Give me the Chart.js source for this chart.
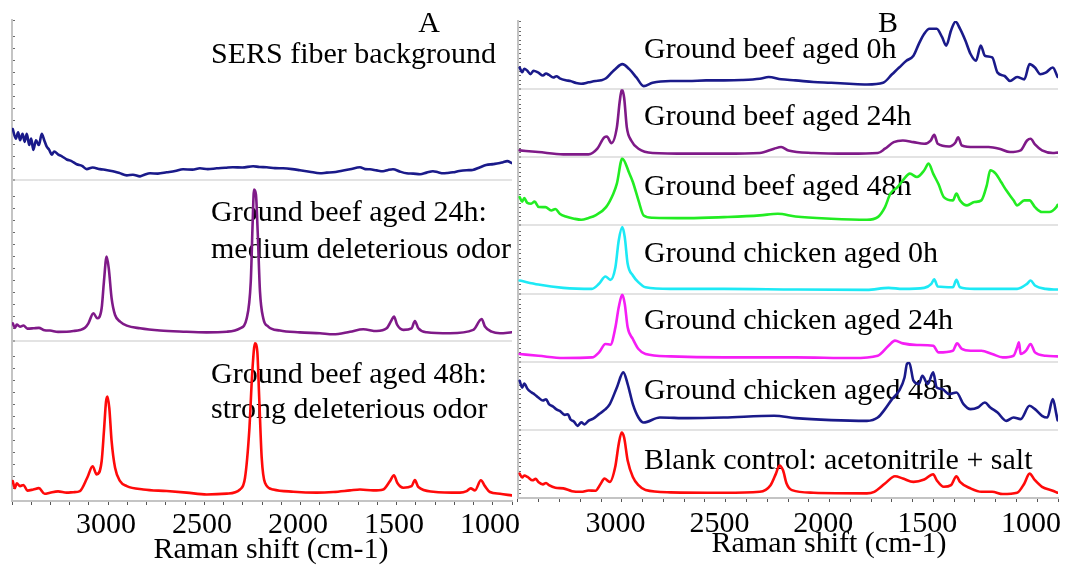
<!DOCTYPE html>
<html>
<head>
<meta charset="utf-8">
<title>SERS spectra of aged ground meat</title>
<script src="https://cdn.jsdelivr.net/npm/chart.js@4.4.1/dist/chart.umd.min.js"></script>
<style>
  html, body { margin: 0; padding: 0; background: #ffffff; }
  body { width: 1065px; height: 569px; position: relative; overflow: hidden; }
  canvas { position: absolute; top: 0; }
  #panelA { left: 0; }
  #panelB { left: 506px; }
</style>
</head>
<body>
<canvas id="panelA" width="520" height="569"></canvas>
<canvas id="panelB" width="559" height="569"></canvas>
<script>
// ---- Raman shift tick labels (cm-1) ----
const shiftTickLabels = [3000, 2500, 2000, 1500, 1000];

// ---- Panel A spectra: [Raman shift, intensity (a.u.)] ----
const fiberBackground = [
  [3486,32],[3470,26],[3458,30],[3448,25],[3435,29],[3424,24],[3413,29],[3400,22],[3390,26],[3379,19],
  [3365,25],[3350,22],[3335,29],[3322,25],[3309,21],[3296,19],[3283,16],[3270,18],[3249,16],[3230,15],
  [3205,13],[3180,12],[3153,10],[3125,9],[3101,7],[3070,8],[3032,7],[3000,6.5],[2964,5.7],[2930,4.5],
  [2892,3.1],[2860,3.5],[2823,2.5],[2800,3.5],[2771,4.4],[2730,4.2],[2684,5.0],[2640,5.8],[2599,6.9],[2550,6.7],
  [2511,7.5],[2470,7.0],[2424,7.5],[2380,7.8],[2339,8.2],[2290,8.0],[2234,8.8],[2200,8.3],[2163,8.2],[2120,7.6],
  [2078,7.5],[2030,7.0],[1990,6.3],[1940,5.4],[1885,4.4],[1850,4.8],[1818,5.0],[1770,6.0],[1729,6.9],[1677,8.2],
  [1650,7.0],[1625,6.9],[1590,6.2],[1557,5.7],[1530,6.5],[1505,6.9],[1470,5.5],[1434,4.4],[1400,4.2],[1364,3.8],
  [1330,4.8],[1297,5.7],[1270,5.0],[1244,4.4],[1220,4.6],[1192,5.0],[1160,5.8],[1121,6.3],[1090,6.5],[1051,8.2],
  [1020,9.5],[984,10.1],[955,10.6],[932,11.3],[910,12.0],[885,10.7]
];
const beefAged24hA = [
  [3486,10.8],[3475,8],[3465,10],[3448,8.7],[3430,9.5],[3410,7.5],[3379,7.7],[3350,8],[3320,6.5],[3292,6.3],
  [3250,5.5],[3205,5.6],[3170,6],[3136,6.7],[3110,8],[3092,10.8],[3066,17.1],[3046,14.0],[3023,20.2],[3011,36.9],
  [2997,52.5],[2986,45.2],[2971,26.4],[2953,16.0],[2927,11.9],[2892,9.4],[2823,7.7],[2719,6.3],[2597,5.6],[2476,5.2],
  [2371,5.6],[2302,7.7],[2267,14],[2246,36.9],[2236,74.4],[2229,94.2],[2219,91],[2210,68.1],[2198,30.6],[2181,14],
  [2155,8.8],[2094,6.3],[1990,5.2],[1885,4.6],[1816,4.0],[1729,5.6],[1660,7.1],[1590,6.0],[1538,7.7],[1512,12.9],
  [1500,15],[1483,9.8],[1451,6.7],[1408,7.7],[1391,12.3],[1373,7.7],[1329,5.2],[1208,4.6],[1087,6.7],[1043,13.5],
  [1026,8.8],[991,5.6],[948,4.6],[887,5.2]
];
const beefAged48hA = [
  [3486,12.4],[3475,8],[3465,11],[3448,9.3],[3430,10],[3410,6.5],[3379,7.2],[3350,8],[3320,4.5],[3292,5.2],
  [3250,6],[3205,5.2],[3170,5.5],[3136,6.2],[3098,14.5],[3070,21.7],[3049,16.6],[3023,24.8],[3011,43.5],[3000,62.1],
  [2993,65.2],[2983,58.0],[2971,37.3],[2953,20.7],[2927,12.4],[2892,9.3],[2806,7.2],[2684,6.2],[2580,5.2],[2476,4.1],
  [2371,4.6],[2302,7.2],[2276,14.5],[2254,43.5],[2238,80.7],[2224,98.3],[2212,93.2],[2202,64.2],[2189,26.9],[2172,11.4],
  [2129,7.2],[2024,5.8],[1902,5.2],[1816,5.6],[1729,6.6],[1677,7.2],[1608,6.6],[1556,7.2],[1521,12.4],[1500,16.1],
  [1483,11.4],[1451,8.3],[1408,9.3],[1391,13.0],[1373,8.7],[1295,5.8],[1156,5.2],[1121,6.2],[1100,7.9],[1078,6.6],
  [1047,12.9],[1026,9.3],[1000,5.6],[948,4.5],[887,3.5]
];

// ---- Panel B spectra: [Raman shift, intensity (a.u.)] ----
const beefAged0h = [
  [3462,31.7],[3450,25],[3440,30],[3424,26.7],[3410,22],[3395,27],[3372,24.2],[3350,20],[3335,23],[3321,20.8],
  [3300,17],[3285,19],[3269,15.9],[3240,13],[3218,11.9],[3190,9],[3166,7.9],[3130,10],[3097,11.9],[3070,13],
  [3046,15.9],[3020,24],[3002,29.3],[2968,36.7],[2934,29.3],[2899,16.8],[2865,4.5],[2822,9.4],[2736,11.9],[2650,11.9],
  [2564,12.9],[2478,12.9],[2392,13.4],[2306,15.3],[2263,17.8],[2203,14.4],[2134,12.9],[2047,10.4],[1962,9.4],[1875,7.9],
  [1790,6.9],[1712,9.4],[1669,21.8],[1635,31.7],[1600,41.6],[1566,49.0],[1540,66.4],[1514,81.3],[1489,88.7],[1454,88.7],
  [1428,76.2],[1408,63.9],[1385,86.2],[1363,99],[1342,88.7],[1316,71.3],[1291,51.6],[1265,41.6],[1242,63.9],[1222,49.0],
  [1187,46.5],[1161,24.2],[1127,19.3],[1101,11.9],[1067,17.8],[1032,14.4],[1007,36.7],[981,31.7],[955,21.8],[929,24.2],
  [895,31.7],[872,17.8]
];
const beefAged24h = [
  [3462,10.1],[3372,7.7],[3252,4.3],[3131,4.3],[3088,12.6],[3054,29.5],[3042,30.4],[3020,20.8],[2994,43.9],[2980,82.6],
  [2970,99.5],[2959,87.4],[2946,43.9],[2925,24.6],[2890,12.6],[2822,6.3],[2650,5.3],[2478,5.3],[2306,6.3],[2237,12.6],
  [2203,15.0],[2168,10.1],[2047,6.3],[1875,5.3],[1738,6.3],[1703,12.6],[1661,22.2],[1617,24.6],[1566,22.2],[1514,19.8],
  [1483,24.6],[1466,32.9],[1449,19.8],[1394,15.9],[1363,22.2],[1351,29.5],[1333,17.4],[1273,15.0],[1204,15.0],[1153,12.6],
  [1101,7.7],[1050,10.1],[1019,24.6],[1002,27.1],[981,18.8],[947,10.1],[895,6.3],[872,6.8]
];
const beefAged48h = [
  [3462,41.6],[3450,35],[3440,40],[3425,33],[3407,31.9],[3390,35],[3370,27],[3338,26.9],[3310,22],[3290,24],
  [3269,17.2],[3240,13],[3200,9.9],[3166,8.4],[3130,11],[3097,14.7],[3046,26.9],[3011,46.6],[2994,61.3],[2968,98.1],
  [2934,76.5],[2917,63.7],[2890,36.8],[2865,14.7],[2822,11.3],[2650,10.7],[2478,12.2],[2306,14.7],[2219,17.2],[2134,13.2],
  [1962,9.9],[1790,8.4],[1738,12.2],[1703,26.9],[1677,46.6],[1643,56.3],[1617,66.2],[1583,76.0],[1549,71.0],[1514,80.9],
  [1493,90.7],[1471,76.0],[1445,60.3],[1420,41.6],[1376,36.8],[1359,46.6],[1342,36.8],[1308,29.4],[1273,34.3],[1239,36.8],
  [1213,58.8],[1196,80.9],[1170,76.0],[1144,63.7],[1119,51.5],[1084,36.8],[1067,29.4],[1032,36.8],[1007,36.8],[981,26.9],
  [947,19.6],[912,19.6],[878,26.9],[872,30]
];
const chickenAged0h = [
  [3462,19.1],[3372,13.2],[3252,8.4],[3114,6.9],[3080,14.3],[3049,25.0],[3025,20.1],[3001,38.7],[2985,77.9],[2968,97.5],
  [2956,82.8],[2942,43.7],[2917,26.5],[2890,16.6],[2856,9.3],[2736,6.9],[2478,6.9],[2134,5.9],[1790,5.4],[1686,8.4],
  [1617,6.9],[1514,8.4],[1480,14.3],[1466,21.0],[1449,10.3],[1376,9.3],[1359,20.1],[1342,9.3],[1273,6.9],[1067,6.9],
  [1019,14.3],[1002,19.1],[981,11.8],[929,6.9],[872,5.9]
];
const chickenAged24h = [
  [3462,11.3],[3372,8.8],[3252,5.4],[3114,6.3],[3080,13.7],[3049,26.0],[3025,25.0],[3001,50.4],[2985,79.9],[2968,98.5],
  [2956,84.9],[2942,50.4],[2917,33.4],[2890,18.7],[2856,11.3],[2736,7.8],[2478,6.3],[2134,6.3],[1858,5.4],[1738,8.8],
  [1686,23.5],[1655,30.9],[1617,26.9],[1549,24.6],[1471,23.5],[1445,13.7],[1376,16.2],[1356,26.9],[1333,18.7],[1291,16.2],
  [1239,16.2],[1187,11.3],[1136,6.3],[1084,8.8],[1067,21.0],[1058,28.4],[1050,11.3],[1024,16.2],[1002,26.0],[981,13.7],
  [929,8.8],[872,7.8]
];
const chickenAged48h = [
  [3462,72.1],[3450,62],[3440,68],[3424,59.9],[3405,55],[3390,52],[3372,47.5],[3350,43],[3335,45],[3321,37.8],
  [3300,34],[3285,30],[3269,27.9],[3245,22],[3230,23],[3218,15.7],[3200,12],[3183,5.9],[3165,11],[3150,8],
  [3131,13.2],[3110,16],[3080,23.1],[3050,30],[3028,37.8],[2994,62.2],[2963,84.3],[2942,67.2],[2917,37.8],[2890,18.1],
  [2865,10.7],[2787,18.1],[2650,17.2],[2478,18.1],[2237,20.6],[2134,17.2],[1962,14.3],[1790,13.2],[1738,18.1],[1703,30.4],
  [1669,45.1],[1635,57.4],[1609,76.9],[1597,97.1],[1586,98.5],[1566,72.1],[1540,67.2],[1523,79.4],[1497,67.2],[1471,84.3],
  [1454,62.2],[1428,59.9],[1394,52.5],[1359,54.9],[1325,37.8],[1291,30.4],[1256,32.8],[1222,40.1],[1196,32.8],[1161,25.4],
  [1119,13.2],[1084,18.1],[1050,15.7],[1007,35.3],[981,30.4],[947,20.6],[921,18.1],[895,45.1],[878,23.1],[872,14]
];
const blankControl = [
  [3462,35.8],[3450,30],[3440,33],[3424,30.9],[3400,26],[3385,28],[3372,23.6],[3350,20],[3335,22],[3321,18.8],
  [3290,15],[3252,14.1],[3210,10],[3166,9.1],[3130,11],[3097,10.6],[3071,21.3],[3054,28.6],[3028,23.6],[3002,45.4],
  [2985,79.3],[2971,96.1],[2959,88.8],[2942,55.1],[2917,30.9],[2890,18.8],[2856,11.6],[2736,8.3],[2478,7.7],[2306,9.1],
  [2254,18.8],[2228,35.8],[2211,47.8],[2194,40.6],[2177,21.3],[2151,11.6],[2047,7.7],[1790,6.8],[1755,9.1],[1703,21.3],
  [1655,31.9],[1617,28.6],[1566,23.6],[1514,27.1],[1471,34.8],[1454,26.1],[1420,16.4],[1385,18.8],[1359,31.9],[1342,23.6],
  [1291,14.1],[1239,9.1],[1187,9.1],[1136,5.8],[1067,7.7],[1032,21.3],[1007,35.8],[981,26.1],[947,16.4],[895,10.6],
  [872,7.7]
];

// ---- Annotation texts ----
const panelATexts = ['A', 'SERS fiber background', 'Ground beef aged 24h:', 'medium deleterious odor',
                     'Ground beef aged 48h:', 'strong deleterious odor', 'Raman shift (cm-1)'];
const panelBTexts = ['B', 'Ground beef aged 0h', 'Ground beef aged 24h', 'Ground beef aged 48h',
                     'Ground chicken aged 0h', 'Ground chicken aged 24h', 'Ground chicken aged 48h',
                     'Blank control: acetonitrile + salt', 'Raman shift (cm-1)'];

// ---- Colours ----
const NAVY = '#1a1a8a', PURPLE = '#7f1a88', RED = '#ff0a0a',
      GREEN = '#22ec22', CYAN = '#1de9f5', MAGENTA = '#f51ef5';

const SERIF = 'Liberation Serif';
const TEXT_FONT = '30px "' + SERIF + '"';

// Draws free text (panel letters, trace captions, axis title) under the traces
const panelTextPlugin = {
  id: 'panelText',
  beforeDatasetsDraw(chart, args, opts) {
    const ctx = chart.ctx;
    ctx.save();
    ctx.fillStyle = opts.color;
    ctx.font = opts.font;
    ctx.textBaseline = 'alphabetic';
    for (const item of opts.items) {
      ctx.textAlign = item.align || 'left';
      ctx.fillText(item.text, item.x, item.y);
    }
    ctx.restore();
  }
};

// Writes the major Raman-shift labels under the x scale, at the scale's own pixels
const shiftLabelPlugin = {
  id: 'shiftLabels',
  afterDraw(chart, args, opts) {
    const scale = chart.scales.x;
    const ctx = chart.ctx;
    ctx.save();
    ctx.fillStyle = opts.color;
    ctx.font = opts.font;
    ctx.textAlign = 'center';
    ctx.textBaseline = 'alphabetic';
    for (const v of opts.values) {
      ctx.fillText(String(v), scale.getPixelForValue(v), scale.top + opts.baselineOffset);
    }
    ctx.restore();
  }
};

function toPoints(pairs) {
  return pairs.map(p => ({ x: p[0], y: p[1] }));
}

function trace(pairs, color, axisId) {
  return {
    data: toPoints(pairs),
    yAxisID: axisId,
    borderColor: color,
    backgroundColor: color,
    borderWidth: 2.6,
    borderJoinStyle: 'round',
    borderCapStyle: 'round',
    cubicInterpolationMode: 'monotone',
    pointRadius: 0,
    fill: false
  };
}

// One vertical strip of the stacked offset plot
function stripAxis(step, showSeparator) {
  return {
    type: 'linear',
    position: 'left',
    stack: 'spectra',
    stackWeight: 1,
    min: 0,
    max: 100,
    afterFit: s => { s.width = 12; },
    ticks: { display: false, stepSize: step },
    border: { color: '#c4c4c4', width: 2 },
    grid: {
      drawTicks: true,
      tickLength: -3,
      tickWidth: 1,
      tickColor: '#6a6a6a',
      color: c => (showSeparator && c.tick && c.tick.value === 0) ? '#e3e3e3' : 'rgba(0,0,0,0)',
      lineWidth: c => (c.tick && c.tick.value === 0) ? 2 : 1
    }
  };
}

function shiftAxis(min, max, height) {
  return {
    type: 'linear',
    reverse: true,
    min: min,
    max: max,
    afterFit: s => { s.height = height; },
    border: { color: '#c4c4c4', width: 2 },
    grid: { drawOnChartArea: false, drawTicks: true, tickLength: 4, tickWidth: 1, tickColor: '#555555' },
    ticks: {
      display: false,
      stepSize: 100,
      includeBounds: false,
      autoSkip: false,
      maxRotation: 0,
      minRotation: 0
    }
  };
}

const commonPlugins = {
  legend: { display: false },
  tooltip: { enabled: false },
  title: { display: false }
};

// ---- Panel A: three stacked strips (declared bottom to top) ----
new Chart(document.getElementById('panelA'), {
  type: 'line',
  data: {
    datasets: [
      trace(fiberBackground, NAVY, 'a1'),
      trace(beefAged24hA, PURPLE, 'a2'),
      trace(beefAged48hA, RED, 'a3')
    ]
  },
  options: {
    responsive: false,
    animation: false,
    devicePixelRatio: 1,
    layout: { padding: { top: 20, left: 0, right: 8, bottom: 3 } },
    scales: {
      x: shiftAxis(885, 3490, 65),
      a3: stripAxis(7.5, false),
      a2: stripAxis(7.5, true),
      a1: stripAxis(7.5, true)
    },
    plugins: Object.assign({}, commonPlugins, {
      shiftLabels: { values: shiftTickLabels, color: '#000000', font: TEXT_FONT, baselineOffset: 32 },
      panelText: {
        color: '#000000',
        font: TEXT_FONT,
        items: [
          { text: panelATexts[0], x: 429, y: 32, align: 'center' },
          { text: panelATexts[1], x: 211, y: 63 },
          { text: panelATexts[2], x: 211, y: 221 },
          { text: panelATexts[3], x: 211, y: 258 },
          { text: panelATexts[4], x: 211, y: 383 },
          { text: panelATexts[5], x: 211, y: 418 },
          { text: panelATexts[6], x: 271, y: 558, align: 'center' }
        ]
      }
    })
  },
  plugins: [panelTextPlugin, shiftLabelPlugin]
});

// ---- Panel B: seven stacked strips (declared bottom to top) ----
new Chart(document.getElementById('panelB'), {
  type: 'line',
  data: {
    datasets: [
      trace(beefAged0h, NAVY, 'b1'),
      trace(beefAged24h, PURPLE, 'b2'),
      trace(beefAged48h, GREEN, 'b3'),
      trace(chickenAged0h, CYAN, 'b4'),
      trace(chickenAged24h, MAGENTA, 'b5'),
      trace(chickenAged48h, NAVY, 'b6'),
      trace(blankControl, RED, 'b7')
    ]
  },
  options: {
    responsive: false,
    animation: false,
    devicePixelRatio: 1,
    layout: { padding: { top: 21, left: 0, right: 7, bottom: 3 } },
    scales: {
      x: shiftAxis(870, 3470, 68),
      b7: stripAxis(6.5, false),
      b6: stripAxis(6.5, true),
      b5: stripAxis(6.5, true),
      b4: stripAxis(6.5, true),
      b3: stripAxis(6.5, true),
      b2: stripAxis(6.5, true),
      b1: stripAxis(6.5, true)
    },
    plugins: Object.assign({}, commonPlugins, {
      shiftLabels: { values: shiftTickLabels, color: '#000000', font: TEXT_FONT, baselineOffset: 34 },
      panelText: {
        color: '#000000',
        font: TEXT_FONT,
        items: [
          { text: panelBTexts[0], x: 382, y: 32, align: 'center' },
          { text: panelBTexts[1], x: 138, y: 58 },
          { text: panelBTexts[2], x: 138, y: 125 },
          { text: panelBTexts[3], x: 138, y: 195 },
          { text: panelBTexts[4], x: 138, y: 262 },
          { text: panelBTexts[5], x: 138, y: 329 },
          { text: panelBTexts[6], x: 138, y: 399 },
          { text: panelBTexts[7], x: 138, y: 469 },
          { text: panelBTexts[8], x: 323, y: 552, align: 'center' }
        ]
      }
    })
  },
  plugins: [panelTextPlugin, shiftLabelPlugin]
});
</script>
</body>
</html>
